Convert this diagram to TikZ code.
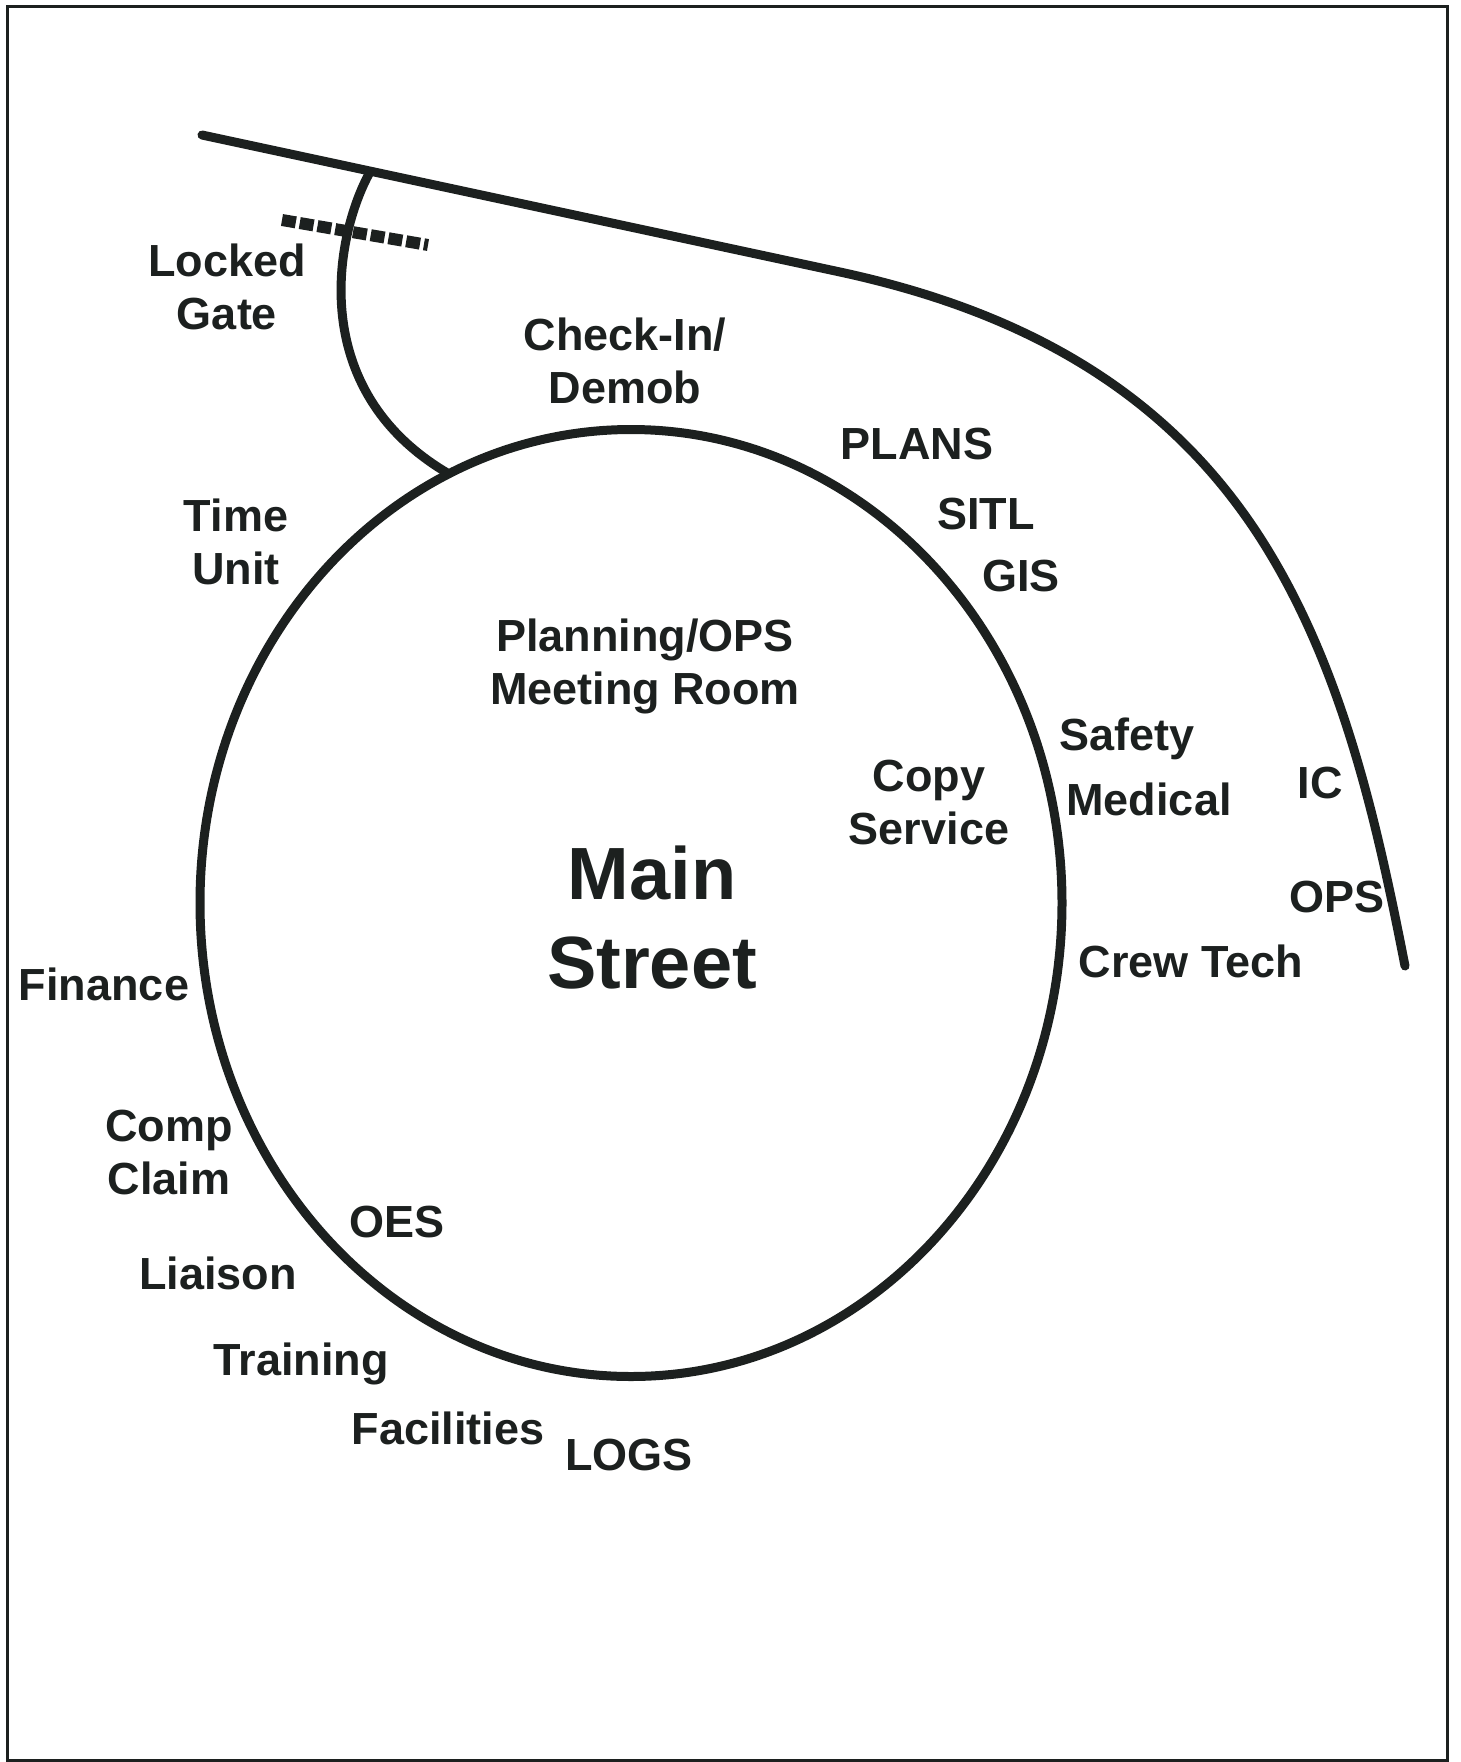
\documentclass[tikz,border=0pt]{standalone}
\usepackage{fontspec}
\setmainfont{Liberation Sans}
\usetikzlibrary{shapes.geometric}
\definecolor{ink}{RGB}{28,32,31}
\tikzset{
  lbl/.style={font=\fontsize{45}{53}\selectfont\bfseries, align=center, inner sep=0pt, text=ink},
  big/.style={font=\fontsize{74}{89}\selectfont\bfseries, align=center, inner sep=0pt, text=ink},
  road/.style={draw=ink, line width=9pt, line cap=round},
  gatebar/.style={draw=ink, line width=12pt, dash pattern=on 14pt off 4pt}
}
\begin{document}
\begin{tikzpicture}[x=1pt, y=-1pt]
    \useasboundingbox (0,0) rectangle (1461,1762);
    \draw[ink, line width=3pt] (7,6) rectangle (1447,1760);

    % main street loop
    \node (street) [ellipse, draw=ink, line width=9pt, inner sep=0pt, outer sep=0pt,
        minimum width=862pt, minimum height=947pt] at (631,903) {};

    % outer road and gate road
    \coordinate (roadw) at (202,135);
    \coordinate (bend) at (840,272);
    \coordinate (roadm) at (1275,562);
    \coordinate (roade) at (1405,966);
    \coordinate (junc) at (370,172);
    \draw[road] (roadw) -- (bend) .. controls (1030,313) and (1180,398) .. (roadm)
        .. controls (1346,684) and (1378,828) .. (roade);
    \draw[road] (junc) .. controls (335,235) and (305,390) .. (street.113);

    % locked gate
    \coordinate (gatel) at (282,220);
    \coordinate (gater) at (428,245);
    \draw[gatebar] (gatel) -- (gater);

    \node (gate) [lbl] at (227,287) {Locked\\Gate};
    \node (checkin) [lbl] at (625,361) {Check-In/\\Demob};
    \node (plans) [lbl] at (917,444) {PLANS};
    \node (sitl) [lbl] at (986,514) {SITL};
    \node (gis) [lbl] at (1021,576) {GIS};
    \node (time) [lbl] at (236,542) {Time\\Unit};
    \node (meeting) [lbl] at (645,666) {Planning/OPS\\Meeting Room};
    \node (copy) [lbl] at (929,802) {Copy\\Service};
    \node (safety) [lbl] at (1127,739) {Safety};
    \node (medical) [lbl] at (1149,799) {Medical};
    \node (ic) [lbl] at (1320,783) {IC};
    \node (ops) [lbl] at (1337,897) {OPS};
    \node (crew) [lbl] at (1191,961) {Crew Tech};
    \node (main) [big] at (652,918) {Main\\Street};
    \node (finance) [lbl] at (104,984) {Finance};
    \node (comp) [lbl] at (169,1152) {Comp\\Claim};
    \node (oes) [lbl] at (397,1222) {OES};
    \node (liaison) [lbl] at (218,1273) {Liaison};
    \node (training) [lbl] at (301,1364) {Training};
    \node (facilities) [lbl] at (448,1428) {Facilities};
    \node (logs) [lbl] at (629,1455) {LOGS};
\end{tikzpicture}
\end{document}
